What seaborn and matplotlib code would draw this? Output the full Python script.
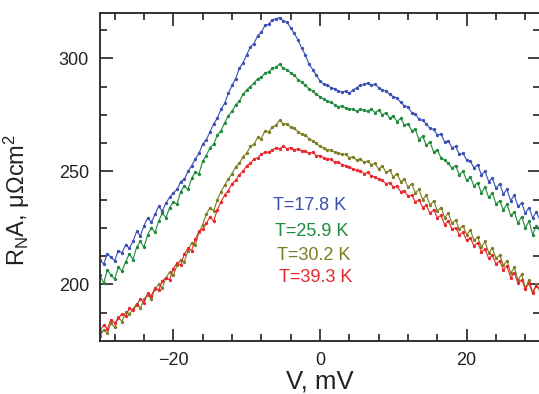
import numpy as np
import pandas as pd
import matplotlib
matplotlib.use("Agg")
import matplotlib.pyplot as plt
import seaborn as sns

# ---- data ----
labels = ["T=17.8 K", "T=25.9 K", "T=30.2 K", "T=39.3 K"]
colors = ["#3b4fb4", "#1f8a3c", "#7d7d22", "#e8262b"]

blue = [211, 209, 213.5, 212, 210.5, 215, 214, 217.5, 216, 219, 223.5, 221.5, 226, 229.5, 227.5, 231, 234.5, 232.5, 236, 238.5,
        240.5, 242, 245.5, 246.5, 250, 252.5, 255.5, 258, 262, 264, 267.5, 271, 273.5, 277.5, 280, 284.5, 288, 291, 295.5, 298,
        301.5, 305, 306.5, 310, 311.5, 314.5, 315, 317, 317.5, 318, 316.5, 316, 313.5, 311, 308, 304.5, 301.5, 297.5, 295, 292.5,
        290, 288.5, 288, 287, 286.5, 285.5, 285, 285.5, 284.5, 286, 287, 288, 288.5, 289, 288, 288.5, 287, 286, 285.5, 284,
        283, 282.5, 280.5, 279, 278.5, 276, 275.5, 273, 272.5, 271, 269, 268.5, 266, 266.5, 263, 263.5, 260.5, 261, 257.5, 258,
        255, 254.5, 251.5, 253, 248.5, 250, 245.5, 247, 242.5, 244.5, 240, 242, 237, 239.5, 234.5, 236, 231.5, 234, 229.5, 232,
        228.5]

green = [204, 200.5, 206.5, 204, 202.5, 207.5, 206, 210, 213.5, 211, 216.5, 219, 216.5, 222, 225, 223, 228, 231.5, 229.5, 234,
         236.5, 235.5, 241, 243.5, 242, 247, 249.5, 249, 254.5, 257, 260.5, 262, 266, 268, 271.5, 274.5, 276.5, 279.5, 281, 284,
         286, 287.5, 289, 291, 291.5, 293.5, 294, 295.5, 296, 297.5, 295.5, 295, 293.5, 292.5, 290.5, 289.5, 288, 286.5, 285.5, 284,
         283, 282, 281, 280.5, 279.5, 278.5, 279, 278, 277.5, 277.5, 276.5, 277.5, 277, 276.5, 277.5, 276, 277, 275, 276, 273.5,
         274.5, 272, 273.5, 270.5, 271, 268, 268.5, 264, 265.5, 261.5, 263, 258.5, 259.5, 256, 255, 253.5, 251.5, 252.5, 248.5, 250,
         246, 247.5, 243.5, 245, 240.5, 243, 238.5, 240.5, 235.5, 237, 233, 235.5, 230.5, 232, 227, 230, 225, 228, 222, 226,
         223.5]

olive = [177, 180, 178.5, 183, 181, 185.5, 183.5, 188, 187, 189, 191.5, 189.5, 193.5, 195.5, 193.5, 198, 200, 198.5, 203, 205.5,
         204, 208.5, 211, 210, 215, 218.5, 217.5, 223, 226.5, 231, 234, 232.5, 237.5, 241, 244, 246.5, 249, 252, 253.5, 256.5,
         258, 261, 262, 265, 264.5, 268, 267.5, 269.5, 270.5, 272.5, 271, 271, 269.5, 269, 267.5, 266.5, 266, 264.5, 263.5, 262.5,
         261, 260.5, 259.5, 259.5, 258.5, 258, 257.5, 257.5, 256, 256.5, 255, 255.5, 254, 254.5, 253, 253.5, 251, 252.5, 249.5, 250.5,
         247.5, 249, 245.5, 246.5, 243, 244.5, 240.5, 242, 237.5, 239.5, 235, 237, 232.5, 234, 229.5, 231.5, 227, 228.5, 224.5, 226,
         222, 224, 219.5, 221, 216.5, 219, 214, 216, 211.5, 213, 208.5, 210.5, 205, 207.5, 202, 204.5, 198.5, 202, 196.5, 200,
         197]

red = [179.5, 182, 180.5, 184.5, 183, 185, 187, 186, 189.5, 188.5, 191, 193.5, 192, 196, 195, 198.5, 197.5, 201.5, 203, 202,
       207, 209.5, 208.5, 213.5, 216, 215, 220, 223.5, 224.5, 227, 230, 228, 233, 236.5, 239.5, 241.5, 244.5, 246, 248.5, 250,
       252.5, 253.5, 255.5, 256, 257.5, 258.5, 258.5, 259.5, 260.5, 260, 261, 260, 260.5, 259.5, 260, 259, 259, 258, 258.5, 257,
       257, 256, 255.5, 255.5, 254, 254, 253, 252.5, 252, 251, 250.5, 250, 249, 249.5, 248, 247.5, 246.5, 246, 244.5, 245,
       243, 243.5, 241, 241.5, 239, 239.5, 236.5, 237.5, 234, 235, 231.5, 233, 229.5, 230.5, 226.5, 228, 224.5, 225, 222, 223,
       219.5, 220.5, 217, 218.5, 214.5, 215.5, 211.5, 213, 209, 210.5, 206.5, 208, 203, 205, 200.5, 202, 198, 200.5, 196, 199.5,
       197.5]

series = [blue, green, olive, red]
V = np.linspace(-30, 30, len(blue))

xticks = [-20, 0, 20]
yticks = [200, 250, 300]

# ---- styling ----
sns.set_style("ticks")
plt.rcParams['font.family'] = ['Liberation Sans', 'DejaVu Sans']
plt.rcParams['mathtext.fontset'] = 'custom'
plt.rcParams['mathtext.rm'] = 'Liberation Sans'
plt.rcParams['mathtext.it'] = 'Liberation Sans'

fig = plt.figure(figsize=(5.39, 3.94), dpi=100)
ax = fig.add_axes([100/539, 53/394, 440/539, 328/394])

frames = []
for lab, vals in zip(labels, series):
    frames.append(pd.DataFrame({"V": V, "R": vals, "T": lab}))
df = pd.concat(frames, ignore_index=True)

for lab, col in zip(labels, colors):
    sub = df[df["T"] == lab]
    sns.lineplot(data=sub, x="V", y="R", ax=ax, color=col, linewidth=0.8,
                 marker="o", markersize=2.4, markeredgewidth=0, legend=False)

ax.set_xlim(-30, 30)
ax.set_ylim(175, 320)
ax.set_xticks(xticks)
ax.set_yticks(yticks)
ax.set_xticks(np.arange(-28, 30, 4), minor=True)
ax.set_yticks(np.arange(187.5, 320, 12.5), minor=True)
ax.tick_params(which="both", direction="in", top=True, right=True, width=1.2, color="#222222")
ax.tick_params(which="major", length=9, labelsize=13, pad=8, labelcolor="#222222")
ax.tick_params(which="minor", length=5)
for s in ax.spines.values():
    s.set_linewidth(1.3)
    s.set_color("#222222")

ax.set_xlabel("V, mV", fontsize=18.5, labelpad=0, color="#222222")
ax.set_ylabel(r"R$_\mathregular{N}$A, μΩcm$^\mathregular{2}$", fontsize=17, color="#222222")
ax.yaxis.set_label_coords(-0.155, 0.43)

text_pos = [(273, 205), (275, 232), (277, 256), (279, 277)]
for lab, col, (px, py) in zip(labels, colors, text_pos):
    xd = ax.transData.inverted().transform(fig.transFigure.transform((px/539, 1 - py/394)))
    ax.text(xd[0], xd[1], lab, color=col, fontsize=13, ha="left", va="center")

fig.savefig("out.png", dpi=100)
